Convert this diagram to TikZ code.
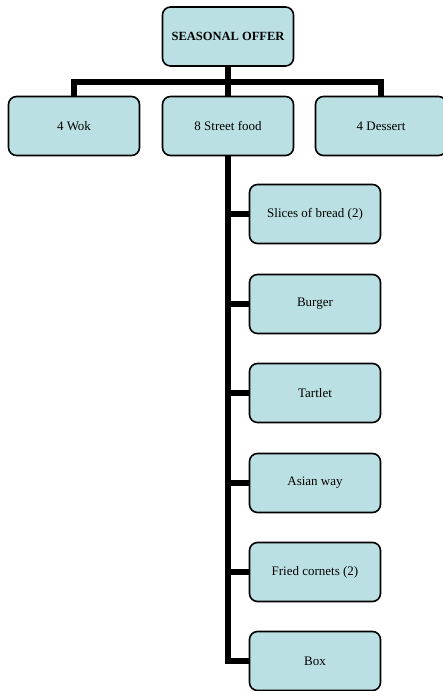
\documentclass[tikz,border=0pt]{standalone}
\usepackage{fontspec}
\setmainfont{Liberation Serif}
\usetikzlibrary{backgrounds}
\definecolor{boxfill}{RGB}{187,224,227}
\begin{document}
\begin{tikzpicture}[x=1pt,y=-1pt,
  card/.style={draw=black,line width=1.6pt,fill=boxfill,rounded corners=8pt,
    minimum width=131pt,minimum height=59pt,inner sep=0pt,align=center,
    font=\fontsize{13}{15}\selectfont},
  titlecard/.style={card,font=\fontsize{12.5}{15}\selectfont\bfseries},
  conn/.style={draw=black,line width=5.2pt,line join=miter}]
\useasboundingbox (0,0) rectangle (442,691);
\coordinate (bus) at (228,82);
\node[titlecard] (top) at (228,36.5) {SEASONAL OFFER};
\node[card] (wok) at (74,126) {4 Wok};
\node[card] (street) at (228,126) {8 Street food};
\node[card] (dessert) at (381,126) {4 Dessert};
\node[card] (c1) at (315,214) {Slices of bread (2)};
\node[card] (c2) at (315,304) {Burger};
\node[card] (c3) at (315,393) {Tartlet};
\node[card] (c4) at (315,483) {Asian way};
\node[card] (c5) at (315,572) {Fried cornets (2)};
\node[card] (c6) at (315,661) {Box};
\begin{scope}[on background layer]
\draw[conn] (top.south) -- (bus);
\draw[conn] (bus) -| (wok.north);
\draw[conn] (bus) -| (dessert.north);
\draw[conn] (bus) -- (street.north);
\draw[conn] (street.south) |- (c6.west);
\foreach \c in {c1,c2,c3,c4,c5}{
  \draw[conn] (street.south |- \c.west) -- (\c.west);
}
\end{scope}
\end{tikzpicture}
\end{document}
